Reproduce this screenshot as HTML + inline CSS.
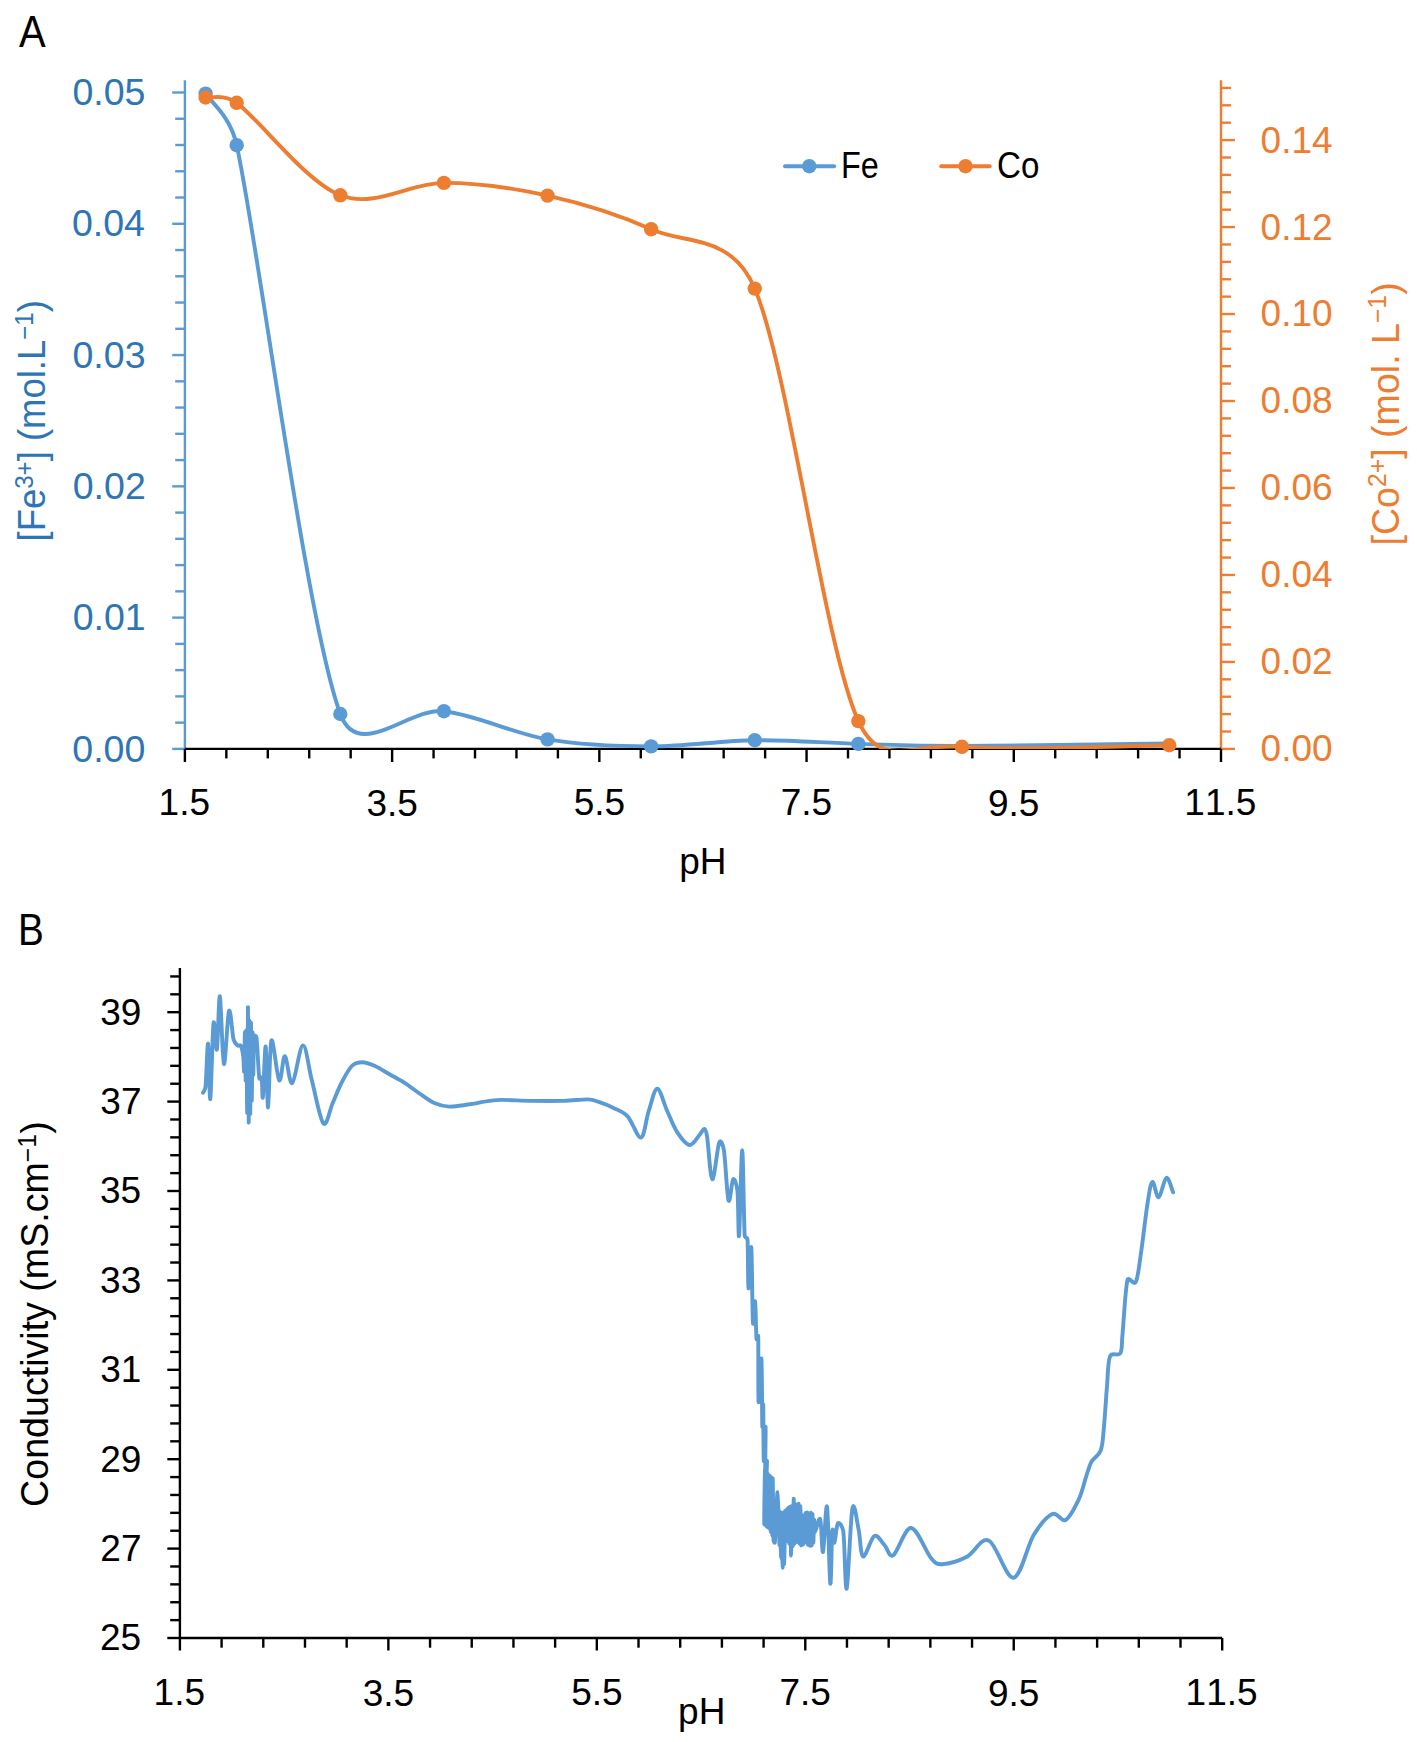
<!DOCTYPE html>
<html><head><meta charset="utf-8"><title>Fe / Co precipitation and conductivity vs pH</title>
<style>
html,body{margin:0;padding:0;background:#fff;}
body{width:1417px;height:1742px;overflow:hidden;}
svg{display:block;font-family:'Liberation Sans', Arial, sans-serif;font-kerning:none;}
</style></head>
<body>
<svg width="1417" height="1742" viewBox="0 0 1417 1742">
<rect width="1417" height="1742" fill="#fff"/>
<line x1="184.9" y1="80.3" x2="184.9" y2="748.9" stroke="#5B9BD5" stroke-width="2.4"/>
<line x1="172.2" y1="748.9" x2="184.9" y2="748.9" stroke="#5B9BD5" stroke-width="2.4"/>
<line x1="175.2" y1="722.64" x2="184.9" y2="722.64" stroke="#5B9BD5" stroke-width="2.4"/>
<line x1="175.2" y1="696.39" x2="184.9" y2="696.39" stroke="#5B9BD5" stroke-width="2.4"/>
<line x1="175.2" y1="670.13" x2="184.9" y2="670.13" stroke="#5B9BD5" stroke-width="2.4"/>
<line x1="175.2" y1="643.88" x2="184.9" y2="643.88" stroke="#5B9BD5" stroke-width="2.4"/>
<line x1="172.2" y1="617.62" x2="184.9" y2="617.62" stroke="#5B9BD5" stroke-width="2.4"/>
<line x1="175.2" y1="591.36" x2="184.9" y2="591.36" stroke="#5B9BD5" stroke-width="2.4"/>
<line x1="175.2" y1="565.11" x2="184.9" y2="565.11" stroke="#5B9BD5" stroke-width="2.4"/>
<line x1="175.2" y1="538.85" x2="184.9" y2="538.85" stroke="#5B9BD5" stroke-width="2.4"/>
<line x1="175.2" y1="512.6" x2="184.9" y2="512.6" stroke="#5B9BD5" stroke-width="2.4"/>
<line x1="172.2" y1="486.34" x2="184.9" y2="486.34" stroke="#5B9BD5" stroke-width="2.4"/>
<line x1="175.2" y1="460.08" x2="184.9" y2="460.08" stroke="#5B9BD5" stroke-width="2.4"/>
<line x1="175.2" y1="433.83" x2="184.9" y2="433.83" stroke="#5B9BD5" stroke-width="2.4"/>
<line x1="175.2" y1="407.57" x2="184.9" y2="407.57" stroke="#5B9BD5" stroke-width="2.4"/>
<line x1="175.2" y1="381.32" x2="184.9" y2="381.32" stroke="#5B9BD5" stroke-width="2.4"/>
<line x1="172.2" y1="355.06" x2="184.9" y2="355.06" stroke="#5B9BD5" stroke-width="2.4"/>
<line x1="175.2" y1="328.8" x2="184.9" y2="328.8" stroke="#5B9BD5" stroke-width="2.4"/>
<line x1="175.2" y1="302.55" x2="184.9" y2="302.55" stroke="#5B9BD5" stroke-width="2.4"/>
<line x1="175.2" y1="276.29" x2="184.9" y2="276.29" stroke="#5B9BD5" stroke-width="2.4"/>
<line x1="175.2" y1="250.04" x2="184.9" y2="250.04" stroke="#5B9BD5" stroke-width="2.4"/>
<line x1="172.2" y1="223.78" x2="184.9" y2="223.78" stroke="#5B9BD5" stroke-width="2.4"/>
<line x1="175.2" y1="197.52" x2="184.9" y2="197.52" stroke="#5B9BD5" stroke-width="2.4"/>
<line x1="175.2" y1="171.27" x2="184.9" y2="171.27" stroke="#5B9BD5" stroke-width="2.4"/>
<line x1="175.2" y1="145.01" x2="184.9" y2="145.01" stroke="#5B9BD5" stroke-width="2.4"/>
<line x1="175.2" y1="118.76" x2="184.9" y2="118.76" stroke="#5B9BD5" stroke-width="2.4"/>
<line x1="172.2" y1="92.5" x2="184.9" y2="92.5" stroke="#5B9BD5" stroke-width="2.4"/>
<line x1="1221" y1="80.3" x2="1221" y2="748.9" stroke="#ED7D31" stroke-width="2.4"/>
<line x1="1221" y1="748.9" x2="1234.9" y2="748.9" stroke="#ED7D31" stroke-width="2.4"/>
<line x1="1221" y1="731.51" x2="1231" y2="731.51" stroke="#ED7D31" stroke-width="2.4"/>
<line x1="1221" y1="714.11" x2="1231" y2="714.11" stroke="#ED7D31" stroke-width="2.4"/>
<line x1="1221" y1="696.72" x2="1231" y2="696.72" stroke="#ED7D31" stroke-width="2.4"/>
<line x1="1221" y1="679.32" x2="1231" y2="679.32" stroke="#ED7D31" stroke-width="2.4"/>
<line x1="1221" y1="661.93" x2="1234.9" y2="661.93" stroke="#ED7D31" stroke-width="2.4"/>
<line x1="1221" y1="644.53" x2="1231" y2="644.53" stroke="#ED7D31" stroke-width="2.4"/>
<line x1="1221" y1="627.14" x2="1231" y2="627.14" stroke="#ED7D31" stroke-width="2.4"/>
<line x1="1221" y1="609.74" x2="1231" y2="609.74" stroke="#ED7D31" stroke-width="2.4"/>
<line x1="1221" y1="592.35" x2="1231" y2="592.35" stroke="#ED7D31" stroke-width="2.4"/>
<line x1="1221" y1="574.96" x2="1234.9" y2="574.96" stroke="#ED7D31" stroke-width="2.4"/>
<line x1="1221" y1="557.56" x2="1231" y2="557.56" stroke="#ED7D31" stroke-width="2.4"/>
<line x1="1221" y1="540.17" x2="1231" y2="540.17" stroke="#ED7D31" stroke-width="2.4"/>
<line x1="1221" y1="522.77" x2="1231" y2="522.77" stroke="#ED7D31" stroke-width="2.4"/>
<line x1="1221" y1="505.38" x2="1231" y2="505.38" stroke="#ED7D31" stroke-width="2.4"/>
<line x1="1221" y1="487.98" x2="1234.9" y2="487.98" stroke="#ED7D31" stroke-width="2.4"/>
<line x1="1221" y1="470.59" x2="1231" y2="470.59" stroke="#ED7D31" stroke-width="2.4"/>
<line x1="1221" y1="453.2" x2="1231" y2="453.2" stroke="#ED7D31" stroke-width="2.4"/>
<line x1="1221" y1="435.8" x2="1231" y2="435.8" stroke="#ED7D31" stroke-width="2.4"/>
<line x1="1221" y1="418.41" x2="1231" y2="418.41" stroke="#ED7D31" stroke-width="2.4"/>
<line x1="1221" y1="401.01" x2="1234.9" y2="401.01" stroke="#ED7D31" stroke-width="2.4"/>
<line x1="1221" y1="383.62" x2="1231" y2="383.62" stroke="#ED7D31" stroke-width="2.4"/>
<line x1="1221" y1="366.22" x2="1231" y2="366.22" stroke="#ED7D31" stroke-width="2.4"/>
<line x1="1221" y1="348.83" x2="1231" y2="348.83" stroke="#ED7D31" stroke-width="2.4"/>
<line x1="1221" y1="331.43" x2="1231" y2="331.43" stroke="#ED7D31" stroke-width="2.4"/>
<line x1="1221" y1="314.04" x2="1234.9" y2="314.04" stroke="#ED7D31" stroke-width="2.4"/>
<line x1="1221" y1="296.65" x2="1231" y2="296.65" stroke="#ED7D31" stroke-width="2.4"/>
<line x1="1221" y1="279.25" x2="1231" y2="279.25" stroke="#ED7D31" stroke-width="2.4"/>
<line x1="1221" y1="261.86" x2="1231" y2="261.86" stroke="#ED7D31" stroke-width="2.4"/>
<line x1="1221" y1="244.46" x2="1231" y2="244.46" stroke="#ED7D31" stroke-width="2.4"/>
<line x1="1221" y1="227.07" x2="1234.9" y2="227.07" stroke="#ED7D31" stroke-width="2.4"/>
<line x1="1221" y1="209.67" x2="1231" y2="209.67" stroke="#ED7D31" stroke-width="2.4"/>
<line x1="1221" y1="192.28" x2="1231" y2="192.28" stroke="#ED7D31" stroke-width="2.4"/>
<line x1="1221" y1="174.88" x2="1231" y2="174.88" stroke="#ED7D31" stroke-width="2.4"/>
<line x1="1221" y1="157.49" x2="1231" y2="157.49" stroke="#ED7D31" stroke-width="2.4"/>
<line x1="1221" y1="140.1" x2="1234.9" y2="140.1" stroke="#ED7D31" stroke-width="2.4"/>
<line x1="1221" y1="122.7" x2="1231" y2="122.7" stroke="#ED7D31" stroke-width="2.4"/>
<line x1="1221" y1="105.31" x2="1231" y2="105.31" stroke="#ED7D31" stroke-width="2.4"/>
<line x1="1221" y1="87.91" x2="1231" y2="87.91" stroke="#ED7D31" stroke-width="2.4"/>
<line x1="184.9" y1="748.9" x2="1221" y2="748.9" stroke="#000" stroke-width="2.4"/>
<line x1="184.9" y1="748.9" x2="184.9" y2="762" stroke="#000" stroke-width="2.4"/>
<line x1="226.34" y1="748.9" x2="226.34" y2="758.4" stroke="#000" stroke-width="2.4"/>
<line x1="267.79" y1="748.9" x2="267.79" y2="758.4" stroke="#000" stroke-width="2.4"/>
<line x1="309.23" y1="748.9" x2="309.23" y2="758.4" stroke="#000" stroke-width="2.4"/>
<line x1="350.68" y1="748.9" x2="350.68" y2="758.4" stroke="#000" stroke-width="2.4"/>
<line x1="392.12" y1="748.9" x2="392.12" y2="762" stroke="#000" stroke-width="2.4"/>
<line x1="433.56" y1="748.9" x2="433.56" y2="758.4" stroke="#000" stroke-width="2.4"/>
<line x1="475.01" y1="748.9" x2="475.01" y2="758.4" stroke="#000" stroke-width="2.4"/>
<line x1="516.45" y1="748.9" x2="516.45" y2="758.4" stroke="#000" stroke-width="2.4"/>
<line x1="557.9" y1="748.9" x2="557.9" y2="758.4" stroke="#000" stroke-width="2.4"/>
<line x1="599.34" y1="748.9" x2="599.34" y2="762" stroke="#000" stroke-width="2.4"/>
<line x1="640.78" y1="748.9" x2="640.78" y2="758.4" stroke="#000" stroke-width="2.4"/>
<line x1="682.23" y1="748.9" x2="682.23" y2="758.4" stroke="#000" stroke-width="2.4"/>
<line x1="723.67" y1="748.9" x2="723.67" y2="758.4" stroke="#000" stroke-width="2.4"/>
<line x1="765.12" y1="748.9" x2="765.12" y2="758.4" stroke="#000" stroke-width="2.4"/>
<line x1="806.56" y1="748.9" x2="806.56" y2="762" stroke="#000" stroke-width="2.4"/>
<line x1="848" y1="748.9" x2="848" y2="758.4" stroke="#000" stroke-width="2.4"/>
<line x1="889.45" y1="748.9" x2="889.45" y2="758.4" stroke="#000" stroke-width="2.4"/>
<line x1="930.89" y1="748.9" x2="930.89" y2="758.4" stroke="#000" stroke-width="2.4"/>
<line x1="972.34" y1="748.9" x2="972.34" y2="758.4" stroke="#000" stroke-width="2.4"/>
<line x1="1013.78" y1="748.9" x2="1013.78" y2="762" stroke="#000" stroke-width="2.4"/>
<line x1="1055.22" y1="748.9" x2="1055.22" y2="758.4" stroke="#000" stroke-width="2.4"/>
<line x1="1096.67" y1="748.9" x2="1096.67" y2="758.4" stroke="#000" stroke-width="2.4"/>
<line x1="1138.11" y1="748.9" x2="1138.11" y2="758.4" stroke="#000" stroke-width="2.4"/>
<line x1="1179.56" y1="748.9" x2="1179.56" y2="758.4" stroke="#000" stroke-width="2.4"/>
<line x1="1221" y1="748.9" x2="1221" y2="762" stroke="#000" stroke-width="2.4"/>
<text transform="translate(72.27,761.54) scale(1.0150,1)" font-size="37" fill="#2E75B6">0.00</text>
<text transform="translate(72.64,630.26) scale(1.0150,1)" font-size="37" fill="#2E75B6">0.01</text>
<text transform="translate(72.7,498.98) scale(1.0150,1)" font-size="37" fill="#2E75B6">0.02</text>
<text transform="translate(72.46,367.7) scale(1.0150,1)" font-size="37" fill="#2E75B6">0.03</text>
<text transform="translate(71.91,236.42) scale(1.0150,1)" font-size="37" fill="#2E75B6">0.04</text>
<text transform="translate(72.38,105.14) scale(1.0150,1)" font-size="37" fill="#2E75B6">0.05</text>
<text transform="translate(1260.55,761.34)" font-size="37" fill="#ED7D31">0.00</text>
<text transform="translate(1260.55,674.36)" font-size="37" fill="#ED7D31">0.02</text>
<text transform="translate(1260.55,587.39)" font-size="37" fill="#ED7D31">0.04</text>
<text transform="translate(1260.55,500.42)" font-size="37" fill="#ED7D31">0.06</text>
<text transform="translate(1260.55,413.45)" font-size="37" fill="#ED7D31">0.08</text>
<text transform="translate(1260.55,326.48)" font-size="37" fill="#ED7D31">0.10</text>
<text transform="translate(1260.55,239.5)" font-size="37" fill="#ED7D31">0.12</text>
<text transform="translate(1260.55,152.53)" font-size="37" fill="#ED7D31">0.14</text>
<text transform="translate(158.55,815.46)" font-size="37" fill="#000">1.5</text>
<text transform="translate(366.47,815.83)" font-size="37" fill="#000">3.5</text>
<text transform="translate(573.66,815.46)" font-size="37" fill="#000">5.5</text>
<text transform="translate(780.67,815.46)" font-size="37" fill="#000">7.5</text>
<text transform="translate(987.97,815.83)" font-size="37" fill="#000">9.5</text>
<text transform="translate(1184.36,815.46)" font-size="37" fill="#000">11.5</text>
<line x1="179.9" y1="967.9" x2="179.9" y2="1638" stroke="#000" stroke-width="2.4"/>
<line x1="167.3" y1="1638" x2="179.9" y2="1638" stroke="#000" stroke-width="2.4"/>
<line x1="170.2" y1="1620.12" x2="179.9" y2="1620.12" stroke="#000" stroke-width="2.4"/>
<line x1="170.2" y1="1602.24" x2="179.9" y2="1602.24" stroke="#000" stroke-width="2.4"/>
<line x1="170.2" y1="1584.36" x2="179.9" y2="1584.36" stroke="#000" stroke-width="2.4"/>
<line x1="170.2" y1="1566.48" x2="179.9" y2="1566.48" stroke="#000" stroke-width="2.4"/>
<line x1="167.3" y1="1548.6" x2="179.9" y2="1548.6" stroke="#000" stroke-width="2.4"/>
<line x1="170.2" y1="1530.72" x2="179.9" y2="1530.72" stroke="#000" stroke-width="2.4"/>
<line x1="170.2" y1="1512.84" x2="179.9" y2="1512.84" stroke="#000" stroke-width="2.4"/>
<line x1="170.2" y1="1494.96" x2="179.9" y2="1494.96" stroke="#000" stroke-width="2.4"/>
<line x1="170.2" y1="1477.08" x2="179.9" y2="1477.08" stroke="#000" stroke-width="2.4"/>
<line x1="167.3" y1="1459.2" x2="179.9" y2="1459.2" stroke="#000" stroke-width="2.4"/>
<line x1="170.2" y1="1441.32" x2="179.9" y2="1441.32" stroke="#000" stroke-width="2.4"/>
<line x1="170.2" y1="1423.44" x2="179.9" y2="1423.44" stroke="#000" stroke-width="2.4"/>
<line x1="170.2" y1="1405.56" x2="179.9" y2="1405.56" stroke="#000" stroke-width="2.4"/>
<line x1="170.2" y1="1387.68" x2="179.9" y2="1387.68" stroke="#000" stroke-width="2.4"/>
<line x1="167.3" y1="1369.8" x2="179.9" y2="1369.8" stroke="#000" stroke-width="2.4"/>
<line x1="170.2" y1="1351.92" x2="179.9" y2="1351.92" stroke="#000" stroke-width="2.4"/>
<line x1="170.2" y1="1334.04" x2="179.9" y2="1334.04" stroke="#000" stroke-width="2.4"/>
<line x1="170.2" y1="1316.16" x2="179.9" y2="1316.16" stroke="#000" stroke-width="2.4"/>
<line x1="170.2" y1="1298.28" x2="179.9" y2="1298.28" stroke="#000" stroke-width="2.4"/>
<line x1="167.3" y1="1280.4" x2="179.9" y2="1280.4" stroke="#000" stroke-width="2.4"/>
<line x1="170.2" y1="1262.52" x2="179.9" y2="1262.52" stroke="#000" stroke-width="2.4"/>
<line x1="170.2" y1="1244.64" x2="179.9" y2="1244.64" stroke="#000" stroke-width="2.4"/>
<line x1="170.2" y1="1226.76" x2="179.9" y2="1226.76" stroke="#000" stroke-width="2.4"/>
<line x1="170.2" y1="1208.88" x2="179.9" y2="1208.88" stroke="#000" stroke-width="2.4"/>
<line x1="167.3" y1="1191" x2="179.9" y2="1191" stroke="#000" stroke-width="2.4"/>
<line x1="170.2" y1="1173.12" x2="179.9" y2="1173.12" stroke="#000" stroke-width="2.4"/>
<line x1="170.2" y1="1155.24" x2="179.9" y2="1155.24" stroke="#000" stroke-width="2.4"/>
<line x1="170.2" y1="1137.36" x2="179.9" y2="1137.36" stroke="#000" stroke-width="2.4"/>
<line x1="170.2" y1="1119.48" x2="179.9" y2="1119.48" stroke="#000" stroke-width="2.4"/>
<line x1="167.3" y1="1101.6" x2="179.9" y2="1101.6" stroke="#000" stroke-width="2.4"/>
<line x1="170.2" y1="1083.72" x2="179.9" y2="1083.72" stroke="#000" stroke-width="2.4"/>
<line x1="170.2" y1="1065.84" x2="179.9" y2="1065.84" stroke="#000" stroke-width="2.4"/>
<line x1="170.2" y1="1047.96" x2="179.9" y2="1047.96" stroke="#000" stroke-width="2.4"/>
<line x1="170.2" y1="1030.08" x2="179.9" y2="1030.08" stroke="#000" stroke-width="2.4"/>
<line x1="167.3" y1="1012.2" x2="179.9" y2="1012.2" stroke="#000" stroke-width="2.4"/>
<line x1="170.2" y1="994.32" x2="179.9" y2="994.32" stroke="#000" stroke-width="2.4"/>
<line x1="170.2" y1="976.44" x2="179.9" y2="976.44" stroke="#000" stroke-width="2.4"/>
<line x1="179.9" y1="1638" x2="1222.2" y2="1638" stroke="#000" stroke-width="2.4"/>
<line x1="179.9" y1="1638" x2="179.9" y2="1650.5" stroke="#000" stroke-width="2.4"/>
<line x1="221.59" y1="1638" x2="221.59" y2="1647.7" stroke="#000" stroke-width="2.4"/>
<line x1="263.28" y1="1638" x2="263.28" y2="1647.7" stroke="#000" stroke-width="2.4"/>
<line x1="304.98" y1="1638" x2="304.98" y2="1647.7" stroke="#000" stroke-width="2.4"/>
<line x1="346.67" y1="1638" x2="346.67" y2="1647.7" stroke="#000" stroke-width="2.4"/>
<line x1="388.36" y1="1638" x2="388.36" y2="1650.5" stroke="#000" stroke-width="2.4"/>
<line x1="430.05" y1="1638" x2="430.05" y2="1647.7" stroke="#000" stroke-width="2.4"/>
<line x1="471.74" y1="1638" x2="471.74" y2="1647.7" stroke="#000" stroke-width="2.4"/>
<line x1="513.44" y1="1638" x2="513.44" y2="1647.7" stroke="#000" stroke-width="2.4"/>
<line x1="555.13" y1="1638" x2="555.13" y2="1647.7" stroke="#000" stroke-width="2.4"/>
<line x1="596.82" y1="1638" x2="596.82" y2="1650.5" stroke="#000" stroke-width="2.4"/>
<line x1="638.51" y1="1638" x2="638.51" y2="1647.7" stroke="#000" stroke-width="2.4"/>
<line x1="680.2" y1="1638" x2="680.2" y2="1647.7" stroke="#000" stroke-width="2.4"/>
<line x1="721.9" y1="1638" x2="721.9" y2="1647.7" stroke="#000" stroke-width="2.4"/>
<line x1="763.59" y1="1638" x2="763.59" y2="1647.7" stroke="#000" stroke-width="2.4"/>
<line x1="805.28" y1="1638" x2="805.28" y2="1650.5" stroke="#000" stroke-width="2.4"/>
<line x1="846.97" y1="1638" x2="846.97" y2="1647.7" stroke="#000" stroke-width="2.4"/>
<line x1="888.66" y1="1638" x2="888.66" y2="1647.7" stroke="#000" stroke-width="2.4"/>
<line x1="930.36" y1="1638" x2="930.36" y2="1647.7" stroke="#000" stroke-width="2.4"/>
<line x1="972.05" y1="1638" x2="972.05" y2="1647.7" stroke="#000" stroke-width="2.4"/>
<line x1="1013.74" y1="1638" x2="1013.74" y2="1650.5" stroke="#000" stroke-width="2.4"/>
<line x1="1055.43" y1="1638" x2="1055.43" y2="1647.7" stroke="#000" stroke-width="2.4"/>
<line x1="1097.12" y1="1638" x2="1097.12" y2="1647.7" stroke="#000" stroke-width="2.4"/>
<line x1="1138.82" y1="1638" x2="1138.82" y2="1647.7" stroke="#000" stroke-width="2.4"/>
<line x1="1180.51" y1="1638" x2="1180.51" y2="1647.7" stroke="#000" stroke-width="2.4"/>
<line x1="1222.2" y1="1638" x2="1222.2" y2="1650.5" stroke="#000" stroke-width="2.4"/>
<text transform="translate(100,1650.44)" font-size="37" fill="#000">25</text>
<text transform="translate(100.31,1561.22)" font-size="37" fill="#000">27</text>
<text transform="translate(100.2,1471.64)" font-size="37" fill="#000">29</text>
<text transform="translate(100.25,1382.24)" font-size="37" fill="#000">31</text>
<text transform="translate(100.07,1292.84)" font-size="37" fill="#000">33</text>
<text transform="translate(100,1203.44)" font-size="37" fill="#000">35</text>
<text transform="translate(100.31,1114.04)" font-size="37" fill="#000">37</text>
<text transform="translate(100.2,1024.64)" font-size="37" fill="#000">39</text>
<text transform="translate(153.55,1705.26)" font-size="37" fill="#000">1.5</text>
<text transform="translate(362.71,1705.63)" font-size="37" fill="#000">3.5</text>
<text transform="translate(571.14,1705.26)" font-size="37" fill="#000">5.5</text>
<text transform="translate(779.39,1705.26)" font-size="37" fill="#000">7.5</text>
<text transform="translate(987.93,1705.63)" font-size="37" fill="#000">9.5</text>
<text transform="translate(1185.56,1705.26)" font-size="37" fill="#000">11.5</text>
<text transform="translate(18.92,46.7) scale(0.9015,1)" font-size="44.33" fill="#000">A</text>
<text transform="translate(18.12,944.9) scale(0.8759,1)" font-size="44.19" fill="#000">B</text>
<text transform="translate(679.27,873.72)" font-size="37" fill="#000">pH</text>
<text transform="translate(678.07,1724.12)" font-size="37" fill="#000">pH</text>
<defs><clipPath id="plotA"><rect x="184.9" y="80.3" width="1036.1" height="668.6"/></clipPath></defs>
<path clip-path="url(#plotA)" d="M205.62,93.6 C210.8,102.2 230.31,115.77 236.7,145.2 C259.15,248.6 305.78,619.67 340.31,714 C358.13,762.66 409.39,706.97 443.92,711.2 C478.46,715.43 513,733.53 547.53,739.4 C582.07,745.27 616.61,746.27 651.14,746.4 C685.68,746.53 720.22,740.62 754.75,740.2 C789.29,739.78 823.83,742.93 858.36,743.9 C892.9,744.87 910.17,746.07 961.97,746 C1013.78,745.93 1134.66,743.92 1169.19,743.5" fill="none" stroke="#5B9BD5" stroke-width="3.9" stroke-linejoin="round" stroke-linecap="round"/>
<circle cx="205.62" cy="93.6" r="7.2" fill="#5B9BD5"/>
<circle cx="236.7" cy="145.2" r="7.2" fill="#5B9BD5"/>
<circle cx="340.31" cy="714" r="7.2" fill="#5B9BD5"/>
<circle cx="443.92" cy="711.2" r="7.2" fill="#5B9BD5"/>
<circle cx="547.53" cy="739.4" r="7.2" fill="#5B9BD5"/>
<circle cx="651.14" cy="746.4" r="7.2" fill="#5B9BD5"/>
<circle cx="754.75" cy="740.2" r="7.2" fill="#5B9BD5"/>
<circle cx="858.36" cy="743.9" r="7.2" fill="#5B9BD5"/>
<path clip-path="url(#plotA)" d="M205.62,97.5 C210.8,98.38 223.95,93.54 236.7,102.8 C259.15,119.1 305.78,181.95 340.31,195.3 C374.85,208.65 409.39,182.85 443.92,182.9 C478.46,182.95 513,187.88 547.53,195.6 C582.07,203.32 616.61,213.7 651.14,229.2 C685.68,244.7 731.57,233.57 754.75,288.6 C789.29,370.58 823.83,644.73 858.36,721.1 C880.36,769.73 910.17,742.78 961.97,746.8 C1013.78,750.82 1134.66,745.47 1169.19,745.2" fill="none" stroke="#ED7D31" stroke-width="3.9" stroke-linejoin="round" stroke-linecap="round"/>
<circle cx="205.62" cy="97.5" r="7.2" fill="#ED7D31"/>
<circle cx="236.7" cy="102.8" r="7.2" fill="#ED7D31"/>
<circle cx="340.31" cy="195.3" r="7.2" fill="#ED7D31"/>
<circle cx="443.92" cy="182.9" r="7.2" fill="#ED7D31"/>
<circle cx="547.53" cy="195.6" r="7.2" fill="#ED7D31"/>
<circle cx="651.14" cy="229.2" r="7.2" fill="#ED7D31"/>
<circle cx="754.75" cy="288.6" r="7.2" fill="#ED7D31"/>
<circle cx="858.36" cy="721.1" r="7.2" fill="#ED7D31"/>
<circle cx="961.97" cy="746.8" r="7.2" fill="#ED7D31"/>
<circle cx="1169.19" cy="745.2" r="7.2" fill="#ED7D31"/>
<line x1="785" y1="166.2" x2="834.2" y2="166.2" stroke="#5B9BD5" stroke-width="3.9" stroke-linecap="round"/>
<circle cx="809.3" cy="166.2" r="7.2" fill="#5B9BD5"/>
<line x1="941.2" y1="166.2" x2="989.7" y2="166.2" stroke="#ED7D31" stroke-width="3.9" stroke-linecap="round"/>
<circle cx="965.5" cy="166.2" r="7.2" fill="#ED7D31"/>
<text transform="translate(841.04,177.74) scale(0.8753,1)" font-size="37" fill="#000">Fe</text>
<text transform="translate(997.12,178.34) scale(0.8959,1)" font-size="37" fill="#000">Co</text>
<path d="M203,1092.7 C203.42,1091.75 205.18,1090.1 205.5,1087 C206.35,1078.83 207.3,1041.7 208.1,1043.7 C208.9,1045.7 209.4,1102.38 210.3,1099 C211.2,1095.62 212.4,1031.67 213.5,1023.4 C214.6,1015.13 215.83,1053.92 216.9,1049.4 C217.97,1044.88 218.73,993.87 219.9,996.3 C221.07,998.73 222.38,1061.55 223.9,1064 C225.42,1066.45 227.4,1015.13 229,1011 C230.6,1006.87 232.1,1033.47 233.5,1039.2 C234.37,1042.76 236.18,1044.3 237.4,1045.4 C238.62,1046.5 239.98,1044.3 240.8,1045.8 C241.77,1047.57 242.63,1051.8 243.2,1056 C243.77,1060.2 243.91,1074.98 244.2,1071 C244.49,1067.02 244.7,1030.5 244.95,1032.11 C245.21,1033.71 245.46,1080.87 245.71,1080.63 C245.96,1080.4 246.21,1025.34 246.46,1030.69 C246.71,1036.04 246.96,1116.66 247.22,1112.73 C247.47,1108.8 247.72,1005.48 247.97,1007.12 C248.22,1008.75 248.47,1120.28 248.72,1122.54 C248.97,1124.79 249.23,1022.09 249.48,1020.64 C249.73,1019.2 249.98,1113.51 250.23,1113.85 C250.48,1114.19 250.73,1024.91 250.98,1022.67 C251.24,1020.44 251.49,1098.78 251.74,1100.46 C251.99,1102.13 252.24,1037.02 252.49,1032.74 C252.74,1028.45 252.99,1074.2 253.25,1074.75 C253.5,1075.29 253.46,1042.19 254,1036 C254.13,1034.52 256.32,1036.13 256.5,1037.6 C257.38,1044.68 258.43,1071.82 259.3,1078.5 C259.46,1079.75 261.46,1076.46 261.7,1077.7 C262.3,1080.78 262.23,1102.22 262.9,1097 C263.57,1091.78 264.83,1044.65 265.7,1046.4 C266.57,1048.15 267.15,1108.47 268.1,1107.5 C269.05,1106.53 269.55,1045.13 271.4,1040.6 C273.25,1036.07 276.95,1077.72 279.2,1080.3 C281.45,1082.88 282.73,1055.63 284.9,1056.1 C287.07,1056.57 289.2,1084.88 292.2,1083.1 C295.2,1081.32 299.6,1045.75 302.9,1045.4 C306.2,1045.05 308.58,1068 312,1081 C315.42,1094 319.95,1119.73 323.4,1123.4 C326.85,1127.07 329.73,1109.65 332.7,1103 C335.67,1096.35 338.02,1089.67 341.2,1083.5 C344.38,1077.33 348.28,1069.55 351.8,1066 C355.32,1062.45 358.43,1062.2 362.3,1062.2 C366.17,1062.2 370.4,1063.95 375,1066 C379.6,1068.05 384.95,1071.68 389.9,1074.5 C394.85,1077.32 399.77,1079.73 404.7,1082.9 C409.63,1086.07 414.57,1090.15 419.5,1093.5 C424.43,1096.85 429.35,1100.82 434.3,1103 C439.25,1105.18 443.55,1106.35 449.2,1106.6 C454.85,1106.85 461.5,1105.45 468.2,1104.5 C474.9,1103.55 483.75,1101.67 489.4,1100.9 C495.05,1100.13 495.73,1099.9 502.1,1099.9 C509.15,1099.9 521.47,1100.73 531.7,1100.9 C541.93,1101.07 554.1,1101.15 563.5,1100.9 C572.9,1100.65 582.12,1099.18 588.1,1099.4 C593.92,1099.61 595.17,1100.78 599.4,1102.2 C603.63,1103.62 608.8,1105.55 613.5,1107.9 C618.2,1110.25 623.02,1111.37 627.6,1116.3 C632.18,1121.23 637.47,1138.43 641,1137.5 C644.53,1136.57 646.08,1118.82 648.8,1110.7 C651.52,1102.58 654.25,1088.8 657.3,1088.8 C660.35,1088.8 663.82,1103.52 667.1,1110.7 C670.38,1117.88 673.27,1126.18 677,1131.9 C680.73,1137.62 685.75,1144.48 689.5,1145 C693.25,1145.52 697.03,1137.67 699.5,1135 C701.97,1132.33 703.03,1128.68 704.3,1129 C705.57,1129.32 706.44,1132.76 707.1,1136.9 C708.43,1145.27 710.28,1178.27 712.3,1179.2 C714.32,1180.13 717.27,1147.33 719.2,1142.5 C720.88,1138.31 723.18,1145.75 723.9,1150.2 C725.45,1159.83 726.97,1195.45 728.5,1200.3 C730.03,1205.15 731.62,1180.88 733.1,1179.3 C734.58,1177.72 736.75,1184.7 737.4,1190.8 C738.4,1200.18 738.3,1242.35 739.1,1235.6 C739.9,1228.85 741.27,1150.23 742.2,1150.3 C743.13,1150.37 743.82,1221.17 744.7,1236 C744.83,1238.16 747.34,1237.14 747.5,1239.3 C748.13,1248.03 747.87,1287.03 748.5,1288.4 C749.13,1289.77 750.57,1241.87 751.3,1247.5 C752.03,1253.13 752.27,1313.22 752.9,1322.2 C753.53,1331.18 754.5,1298.6 755.1,1301.4 C755.7,1304.2 755.98,1333.23 756.5,1339 C756.65,1340.72 758.14,1334.28 758.2,1336 C758.55,1346.5 758.07,1398.23 758.6,1402 C759.13,1405.77 760.78,1354.6 761.4,1358.6 C762.02,1362.6 762,1418.27 762.3,1426 C762.6,1433.73 762.95,1399.17 763.2,1405 C763.45,1410.83 763.4,1457.33 763.8,1461 C764.2,1464.67 765.37,1423.83 765.6,1427 C765.83,1430.17 764.97,1474.17 765.2,1480 C765.43,1485.83 767.15,1454.62 767,1462 C766.85,1469.38 764.62,1523.14 764.3,1524.3 C763.98,1525.46 764.81,1468.68 765.07,1468.93 C765.32,1469.19 765.58,1525.69 765.83,1525.83 C766.09,1525.98 766.34,1469.62 766.6,1469.8 C766.86,1469.98 767.11,1526.19 767.37,1526.91 C767.62,1527.63 767.88,1473.96 768.13,1474.13 C768.39,1474.3 768.64,1527.68 768.9,1527.93 C769.16,1528.19 769.41,1475.1 769.67,1475.67 C769.92,1476.24 770.18,1531.1 770.43,1531.34 C770.69,1531.59 770.94,1476.56 771.2,1477.16 C771.46,1477.76 771.71,1534.72 771.97,1534.92 C772.22,1535.13 772.48,1477.54 772.73,1478.39 C772.99,1479.23 773.14,1529.35 773.5,1540 C773.55,1541.35 774.78,1543.64 774.9,1542.3 C775.58,1534.35 776.83,1491.85 777.6,1492.3 C778.37,1492.75 779.1,1541.72 779.5,1545 C779.9,1548.28 779.77,1509.84 780,1512 C780.23,1514.16 780.57,1557.84 780.85,1557.96 C781.14,1558.08 781.42,1511.11 781.71,1512.72 C781.99,1514.34 782.28,1567.57 782.56,1567.66 C782.85,1567.75 783.13,1513.86 783.41,1513.26 C783.7,1512.65 783.98,1564.36 784.27,1564 C784.55,1563.64 784.84,1514.88 785.12,1511.11 C785.41,1507.33 785.69,1541.68 785.98,1541.36 C786.26,1541.05 786.54,1509.29 786.83,1509.23 C787.11,1509.17 787.4,1541.26 787.68,1541 C787.97,1540.74 788.25,1507.2 788.54,1507.64 C788.82,1508.09 789.11,1543.86 789.39,1543.7 C789.67,1543.54 789.96,1504.71 790.24,1506.68 C790.53,1508.64 790.81,1555.59 791.1,1555.49 C791.38,1555.39 791.67,1507.63 791.95,1506.08 C792.24,1504.54 792.52,1547.44 792.8,1546.21 C793.09,1544.98 793.37,1499.16 793.66,1498.71 C793.94,1498.25 794.23,1542.58 794.51,1543.49 C794.8,1544.4 795.08,1504.46 795.37,1504.17 C795.65,1503.89 795.93,1540.86 796.22,1541.78 C796.5,1542.7 796.79,1509.69 797.07,1509.72 C797.36,1509.74 797.64,1542.95 797.93,1541.93 C798.21,1540.91 798.5,1503.31 798.78,1503.6 C799.07,1503.88 799.35,1543.19 799.63,1543.63 C799.92,1544.08 800.2,1505.99 800.49,1506.28 C800.77,1506.56 801.06,1543.85 801.34,1545.34 C801.63,1546.83 801.91,1515.41 802.2,1515.23 C802.48,1515.05 802.76,1544.15 803.05,1544.25 C803.33,1544.35 803.62,1516.3 803.9,1515.83 C804.19,1515.36 804.47,1541.88 804.76,1541.41 C805.04,1540.93 805.33,1512.76 805.61,1512.98 C805.89,1513.21 806.18,1542.84 806.46,1542.74 C806.75,1542.65 807.03,1512.07 807.32,1512.41 C807.6,1512.75 807.89,1544.02 808.17,1544.77 C808.46,1545.53 808.74,1516.77 809.02,1516.94 C809.31,1517.11 809.59,1546.53 809.88,1545.82 C810.16,1545.11 810.45,1512.75 810.73,1512.67 C811.02,1512.59 811.3,1545.14 811.59,1545.36 C811.87,1545.57 812.15,1514.43 812.44,1513.97 C812.72,1513.5 813.01,1541.56 813.29,1542.57 C813.58,1543.58 813.86,1521.78 814.15,1520.02 C814.43,1518.25 813.99,1532.14 815,1532 C816.01,1531.86 818.87,1515.87 820.2,1519.2 C821.53,1522.53 821.87,1554.08 823,1552 C824.13,1549.92 825.78,1501.43 827,1506.7 C828.22,1511.97 829.42,1579.62 830.3,1583.6 C831.18,1587.58 831.62,1537.42 832.3,1530.6 C832.91,1524.49 833.47,1543.92 834.4,1542.7 C835.33,1541.48 836.42,1525.15 837.9,1523.3 C839.38,1521.45 842.64,1526.69 843.3,1531.6 C844.77,1542.48 845.18,1592.45 846.7,1588.6 C848.22,1584.75 850.42,1518.37 852.4,1508.5 C854.38,1498.63 856.82,1521.4 858.6,1529.4 C860.38,1537.4 860.47,1555.38 863.1,1556.5 C865.73,1557.62 870.83,1537.98 874.4,1536.1 C877.97,1534.22 881.33,1542.02 884.5,1545.2 C887.67,1548.38 888.97,1558.07 893.4,1555.2 C897.83,1552.33 904.8,1527.48 911.1,1528 C917.4,1528.52 926.03,1552.27 931.2,1558.3 C935.23,1563.01 936.15,1564.45 942.1,1564.2 C948.05,1563.95 959.13,1560.75 966.9,1556.8 C974.67,1552.85 980.93,1537.02 988.7,1540.5 C996.47,1543.98 1006,1578.62 1013.5,1577.7 C1021,1576.78 1027.23,1545.6 1033.7,1535 C1040.17,1524.4 1047,1516.6 1052.3,1514.1 C1057.6,1511.6 1061.07,1522.5 1065.5,1520 C1069.93,1517.5 1075.45,1506.37 1078.9,1499.1 C1082.35,1491.83 1084.12,1482.6 1086.2,1476.4 C1088.28,1470.2 1088.98,1466.22 1091.4,1461.9 C1093.82,1457.58 1098.63,1456.02 1100.7,1450.5 C1102.77,1444.98 1102.77,1439.3 1103.8,1428.8 C1104.83,1418.3 1105.87,1399.57 1106.9,1387.5 C1107.93,1375.43 1107.77,1362.1 1110,1356.4 C1111.96,1351.39 1118.23,1356.73 1120.3,1353.3 C1122.37,1349.87 1121.54,1344.57 1122.4,1335.8 C1123.6,1323.57 1125.27,1288.87 1127.5,1279.9 C1128.53,1275.75 1133.88,1285.83 1135.8,1282 C1138.05,1277.52 1139.02,1266.28 1141,1253 C1142.98,1239.72 1145.8,1214.13 1147.7,1202.3 C1149.35,1192.01 1150.57,1182.83 1152.4,1182 C1154.23,1181.17 1156.37,1198 1158.7,1197.3 C1161.03,1196.6 1164,1178.65 1166.4,1177.8 C1168.8,1176.95 1171.98,1189.8 1173.1,1192.2" fill="none" stroke="#5B9BD5" stroke-width="3.9" stroke-linejoin="round" stroke-linecap="round"/>
<text transform="translate(45.3,541.51) rotate(-90)" font-size="38" fill="#2E75B6" textLength="241.4" lengthAdjust="spacingAndGlyphs"><tspan>[Fe</tspan><tspan font-size="25.08" dy="-12.73">3+</tspan><tspan dy="12.73">] (mol.L</tspan><tspan font-size="25.08" dy="-12.73">−1</tspan><tspan dy="12.73">)</tspan></text>
<text transform="translate(1398.8,545.51) rotate(-90)" font-size="38" fill="#ED7D31" textLength="263.2" lengthAdjust="spacingAndGlyphs"><tspan>[Co</tspan><tspan font-size="25.08" dy="-12.73">2+</tspan><tspan dy="12.73">] (mol. L</tspan><tspan font-size="25.08" dy="-12.73">−1</tspan><tspan dy="12.73">)</tspan></text>
<text transform="translate(48.3,1506.93) rotate(-90)" font-size="38" fill="#000" textLength="385.6" lengthAdjust="spacingAndGlyphs"><tspan>Conductivity (mS.cm</tspan><tspan font-size="25.08" dy="-12.73">−1</tspan><tspan dy="12.73">)</tspan></text>
</svg>
</body></html>
